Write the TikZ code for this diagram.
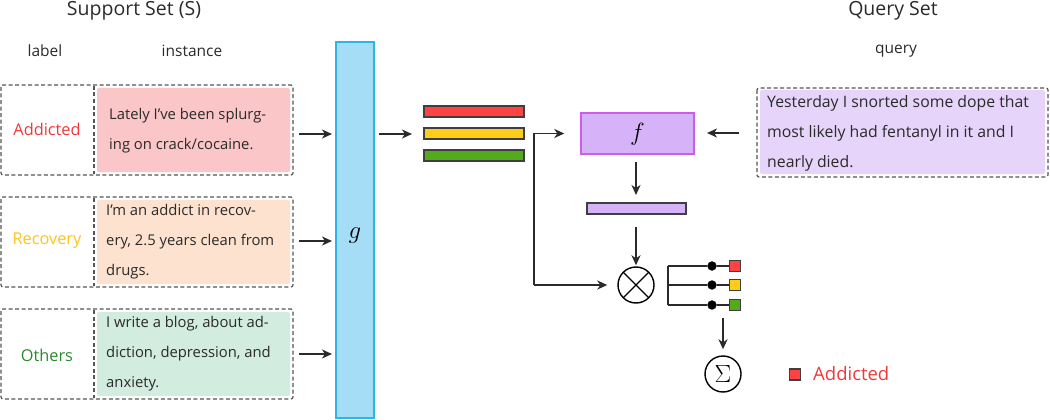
\documentclass[tikz,border=0pt]{standalone}
\usepackage{fontspec}
\setmainfont{Open Sans}
\usetikzlibrary{arrows.meta,calc}
\definecolor{bred}{HTML}{FF4242}
\definecolor{byel}{HTML}{FFCC1A}
\definecolor{bgrn}{HTML}{52AA1C}
\definecolor{lred}{HTML}{F03838}
\definecolor{lyel}{HTML}{FFC21A}
\definecolor{lgrn}{HTML}{2A8A2A}
\definecolor{fpink}{HTML}{FBC6C8}
\definecolor{fpeach}{HTML}{FDE2CF}
\definecolor{fmint}{HTML}{D2ECE0}
\definecolor{fquery}{HTML}{E7D4FA}
\definecolor{fbox}{HTML}{D6B3F8}
\definecolor{fboxb}{HTML}{CC5CEE}
\definecolor{gfill}{HTML}{A5DCF6}
\definecolor{gline}{HTML}{2FB4E8}
\definecolor{ink}{HTML}{2A2A2A}
\tikzset{
  arr/.style={draw=ink, line width=1.9pt, -{Stealth[length=10pt,width=9pt,inset=3pt]}},
  dbox/.style={draw=ink!80, dashed, line width=1.2pt, dash pattern=on 4pt off 2.5pt, rounded corners=2pt},
  txt/.style={anchor=west, align=left, inner sep=0pt, font=\fontsize{14.8}{30}\selectfont, text=ink},
  lab/.style={font=\fontsize{16.3}{18}\selectfont},
  head/.style={font=\fontsize{19.5}{22}\selectfont, text=ink},
  sub/.style={font=\fontsize{15.5}{17}\selectfont, text=ink},
  bar/.style={draw=ink!90, line width=1.2pt},
  sq/.style={draw=ink!90, line width=1.1pt, minimum size=11pt, inner sep=0pt},
  dot/.style={circle, fill=black, draw=ink, inner sep=0pt, minimum size=9pt}
}
\begin{document}
\begin{tikzpicture}[x=1pt,y=-1pt]
\useasboundingbox (0,0) rectangle (1050,420);
% headings
\node[head] (hs) at (134,11) {Support Set (S)};
\node[head] (hq) at (893,11) {Query Set};
\node[sub] (hl) at (45,51) {label};
\node[sub] (hi) at (192,51) {instance};
\node[sub] (hqq) at (896,51) {query};
% support boxes
\fill[fpink, rounded corners=2pt] (97,88) rectangle (290,172);
\fill[fpeach, rounded corners=2pt] (97,200) rectangle (290,284);
\fill[fmint, rounded corners=2pt] (97,312) rectangle (290,396);
\draw[dbox] (1,85) rectangle (293,175);
\draw[dbox] (1,197) rectangle (293,287);
\draw[dbox] (1,309) rectangle (293,399);
\draw[ink!80, dashed, line width=1.2pt, dash pattern=on 4pt off 2.5pt] (94,86) -- (94,174);
\draw[ink!80, dashed, line width=1.2pt, dash pattern=on 4pt off 2.5pt] (94,198) -- (94,286);
\draw[ink!80, dashed, line width=1.2pt, dash pattern=on 4pt off 2.5pt] (94,310) -- (94,398);
\node[lab, text=lred] (la) at (47,129) {Addicted};
\node[lab, text=lyel] (lr) at (47,241) {Recovery};
\node[lab, text=lgrn] (lo) at (47,355) {Others};
\node[txt] (t1) at (109,131) {Lately I've been splurg-\\ing on crack/cocaine.};
\node[txt] (t2) at (106,241.5) {I'm an addict in recov-\\ery, 2.5 years clean from\\drugs.};
\node[txt] (t3) at (106,354) {I write a blog, about ad-\\diction, depression, and\\anxiety.};
% g encoder
\node[draw=gline, fill=gfill, line width=1.5pt, minimum width=38pt, minimum height=376pt, inner sep=0pt] (g) at (355,230) {};
\node[font=\fontsize{32}{36}\selectfont] (gl) at (355,236) {$g$};
\coordinate (a1) at (299,134);
\coordinate (a2) at (299,241);
\coordinate (a3) at (299,354);
\draw[arr] (a1) -- (332,134);
\draw[arr] (a2) -- (332,241);
\draw[arr] (a3) -- (332,354);
\coordinate (gout) at (379,134);
\draw[arr] (gout) -- (412,134);
% prototype bars
\draw[bar, fill=bred] (424,106) rectangle (524,117);
\draw[bar, fill=byel] (424,128) rectangle (524,139);
\draw[bar, fill=bgrn] (424,150) rectangle (524,161);
% f
\node[draw=fboxb, fill=fbox, line width=1.4pt, minimum width=113pt, minimum height=41pt, inner sep=0pt] (f) at (637.5,133.5) {};
\node[font=\fontsize{30}{34}\selectfont] (fl) at (637.5,134) {$f$};
% query box
\fill[fquery, rounded corners=2pt] (760,90) rectangle (1045,174);
\draw[dbox] (757,88) rectangle (1048,177);
\node[txt, font=\fontsize{15.8}{30}\selectfont] (tq) at (767,133) {Yesterday I snorted some dope that\\most likely had fentanyl in it and I\\nearly died.};
\coordinate (qin) at (739,133);
\draw[arr] (qin) -- (707,133);
% f -> query vector
\draw[bar, fill=fbox] (587,203) rectangle (686,214);
\coordinate (fo) at (636,162);
\draw[arr] (fo) -- (636,195);
\coordinate (vo) at (636,227);
% otimes
\node[circle, draw=black, line width=1.4pt, minimum size=36pt, inner sep=0pt] (ot) at (636,285) {};
\draw[line width=1.1pt] ($(ot.center)+(-12.5,-12.5)$) -- ($(ot.center)+(12.5,12.5)$);
\draw[line width=1.1pt] ($(ot.center)+(-12.5,12.5)$) -- ($(ot.center)+(12.5,-12.5)$);
\draw[arr, shorten >=1pt] (vo) -- (ot.north);
% elbow connector
\coordinate (jb) at (534,285);
\draw[arr, shorten >=16pt] (jb) |- (f.west);
\draw[arr, shorten >=10pt] (jb) -- (ot.west);
% tree
\coordinate (tr1) at (668,266);
\coordinate (tr3) at (668,305);
\draw[line width=1.9pt, ink] (tr1) -- (tr3);
\node[dot] (d1) at (712,266) {};
\node[dot] (d2) at (712,285) {};
\node[dot] (d3) at (712,305) {};
\node[sq, fill=bred] (s1) at (735,266) {};
\node[sq, fill=byel] (s2) at (735,285) {};
\node[sq, fill=bgrn] (s3) at (735,305) {};
\draw[line width=1.9pt, ink] (tr1) -- (d1) -- (s1);
\draw[line width=1.9pt, ink] (668,285) -- (d2) -- (s2);
\draw[line width=1.9pt, ink] (tr3) -- (d3) -- (s3);
% sigma
\node[circle, draw=black, line width=1.4pt, minimum size=36pt, inner sep=0pt, font=\fontsize{23}{26}\selectfont] (sg) at (723,374) {$\Sigma$};
\coordinate (so) at (723,318);
\draw[arr, shorten >=6pt] (so) -- (sg.north);
% legend
\node[sq, fill=bred] (lg) at (795,374.5) {};
\node[anchor=west, text=lred, font=\fontsize{18.5}{20}\selectfont, inner sep=0pt] (lgt) at (813,374) {Addicted};
\end{tikzpicture}
\end{document}
